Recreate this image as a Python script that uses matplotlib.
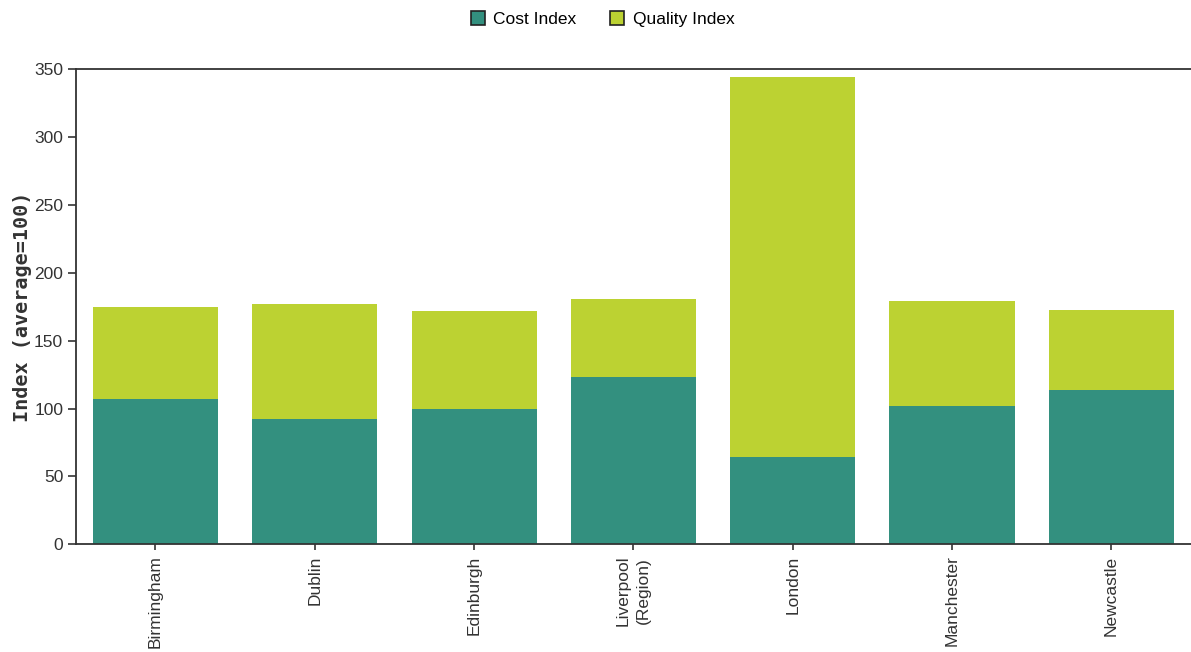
import numpy as np
import matplotlib.pyplot as plt
from matplotlib.lines import Line2D

cities = ['Birmingham', 'Dublin', 'Edinburgh', 'Liverpool\n(Region)', 'London', 'Manchester', 'Newcastle']
cost_index = [107, 92, 100, 123, 64, 102, 114]
quality_index = [68, 85, 72, 58, 280, 77, 59]

teal = '#33907f'
lime = '#bcd232'
txt = '#333333'

fig = plt.figure(figsize=(11.91, 6.52), dpi=100)
ax = fig.add_axes([0.0636, 0.1652, 0.9364, 0.7285])

x = np.arange(len(cities))
ax.bar(x, cost_index, width=0.785, color=teal, label='Cost Index')
ax.bar(x, quality_index, width=0.785, bottom=cost_index, color=lime, label='Quality Index')

ax.set_xlim(-0.5, len(cities) - 0.5)
ax.set_ylim(0, 350)
ax.set_yticks(range(0, 351, 50))
ax.set_xticks(x)
ax.set_xticklabels(cities, rotation=90, va='top', ha='center',
                   family='Liberation Sans', fontsize=12.5, color=txt, linespacing=1.45)
for lbl in ax.get_yticklabels():
    lbl.set_family('Liberation Sans')
    lbl.set_fontsize(12.5)
    lbl.set_color(txt)

ax.tick_params(axis='y', length=6, width=1.2, color=txt, pad=3)
ax.tick_params(axis='x', length=4, width=1.2, color=txt, pad=4)

for side in ['left', 'bottom', 'top']:
    ax.spines[side].set_color(txt)
    ax.spines[side].set_linewidth(1.3)
ax.spines['right'].set_visible(False)

ax.set_ylabel('Index (average=100)', family='DejaVu Sans Mono', fontweight='bold',
              fontsize=14.5, color=txt)
ax.yaxis.set_label_coords(-0.039, 0.5)

handles = [
    Line2D([], [], marker='s', linestyle='none', markersize=10, markerfacecolor=teal,
           markeredgecolor='#222222', markeredgewidth=1.2),
    Line2D([], [], marker='s', linestyle='none', markersize=10, markerfacecolor=lime,
           markeredgecolor='#222222', markeredgewidth=1.2),
]
fig.legend(handles, ['Cost Index', 'Quality Index'], loc='upper center',
           bbox_to_anchor=(0.5034, 1.006), ncol=2, frameon=False, handletextpad=0.15,
           handlelength=1.5, columnspacing=1.6,
           prop={'family': 'Liberation Sans', 'size': 12.5})

fig.savefig('out.png', dpi=100)
